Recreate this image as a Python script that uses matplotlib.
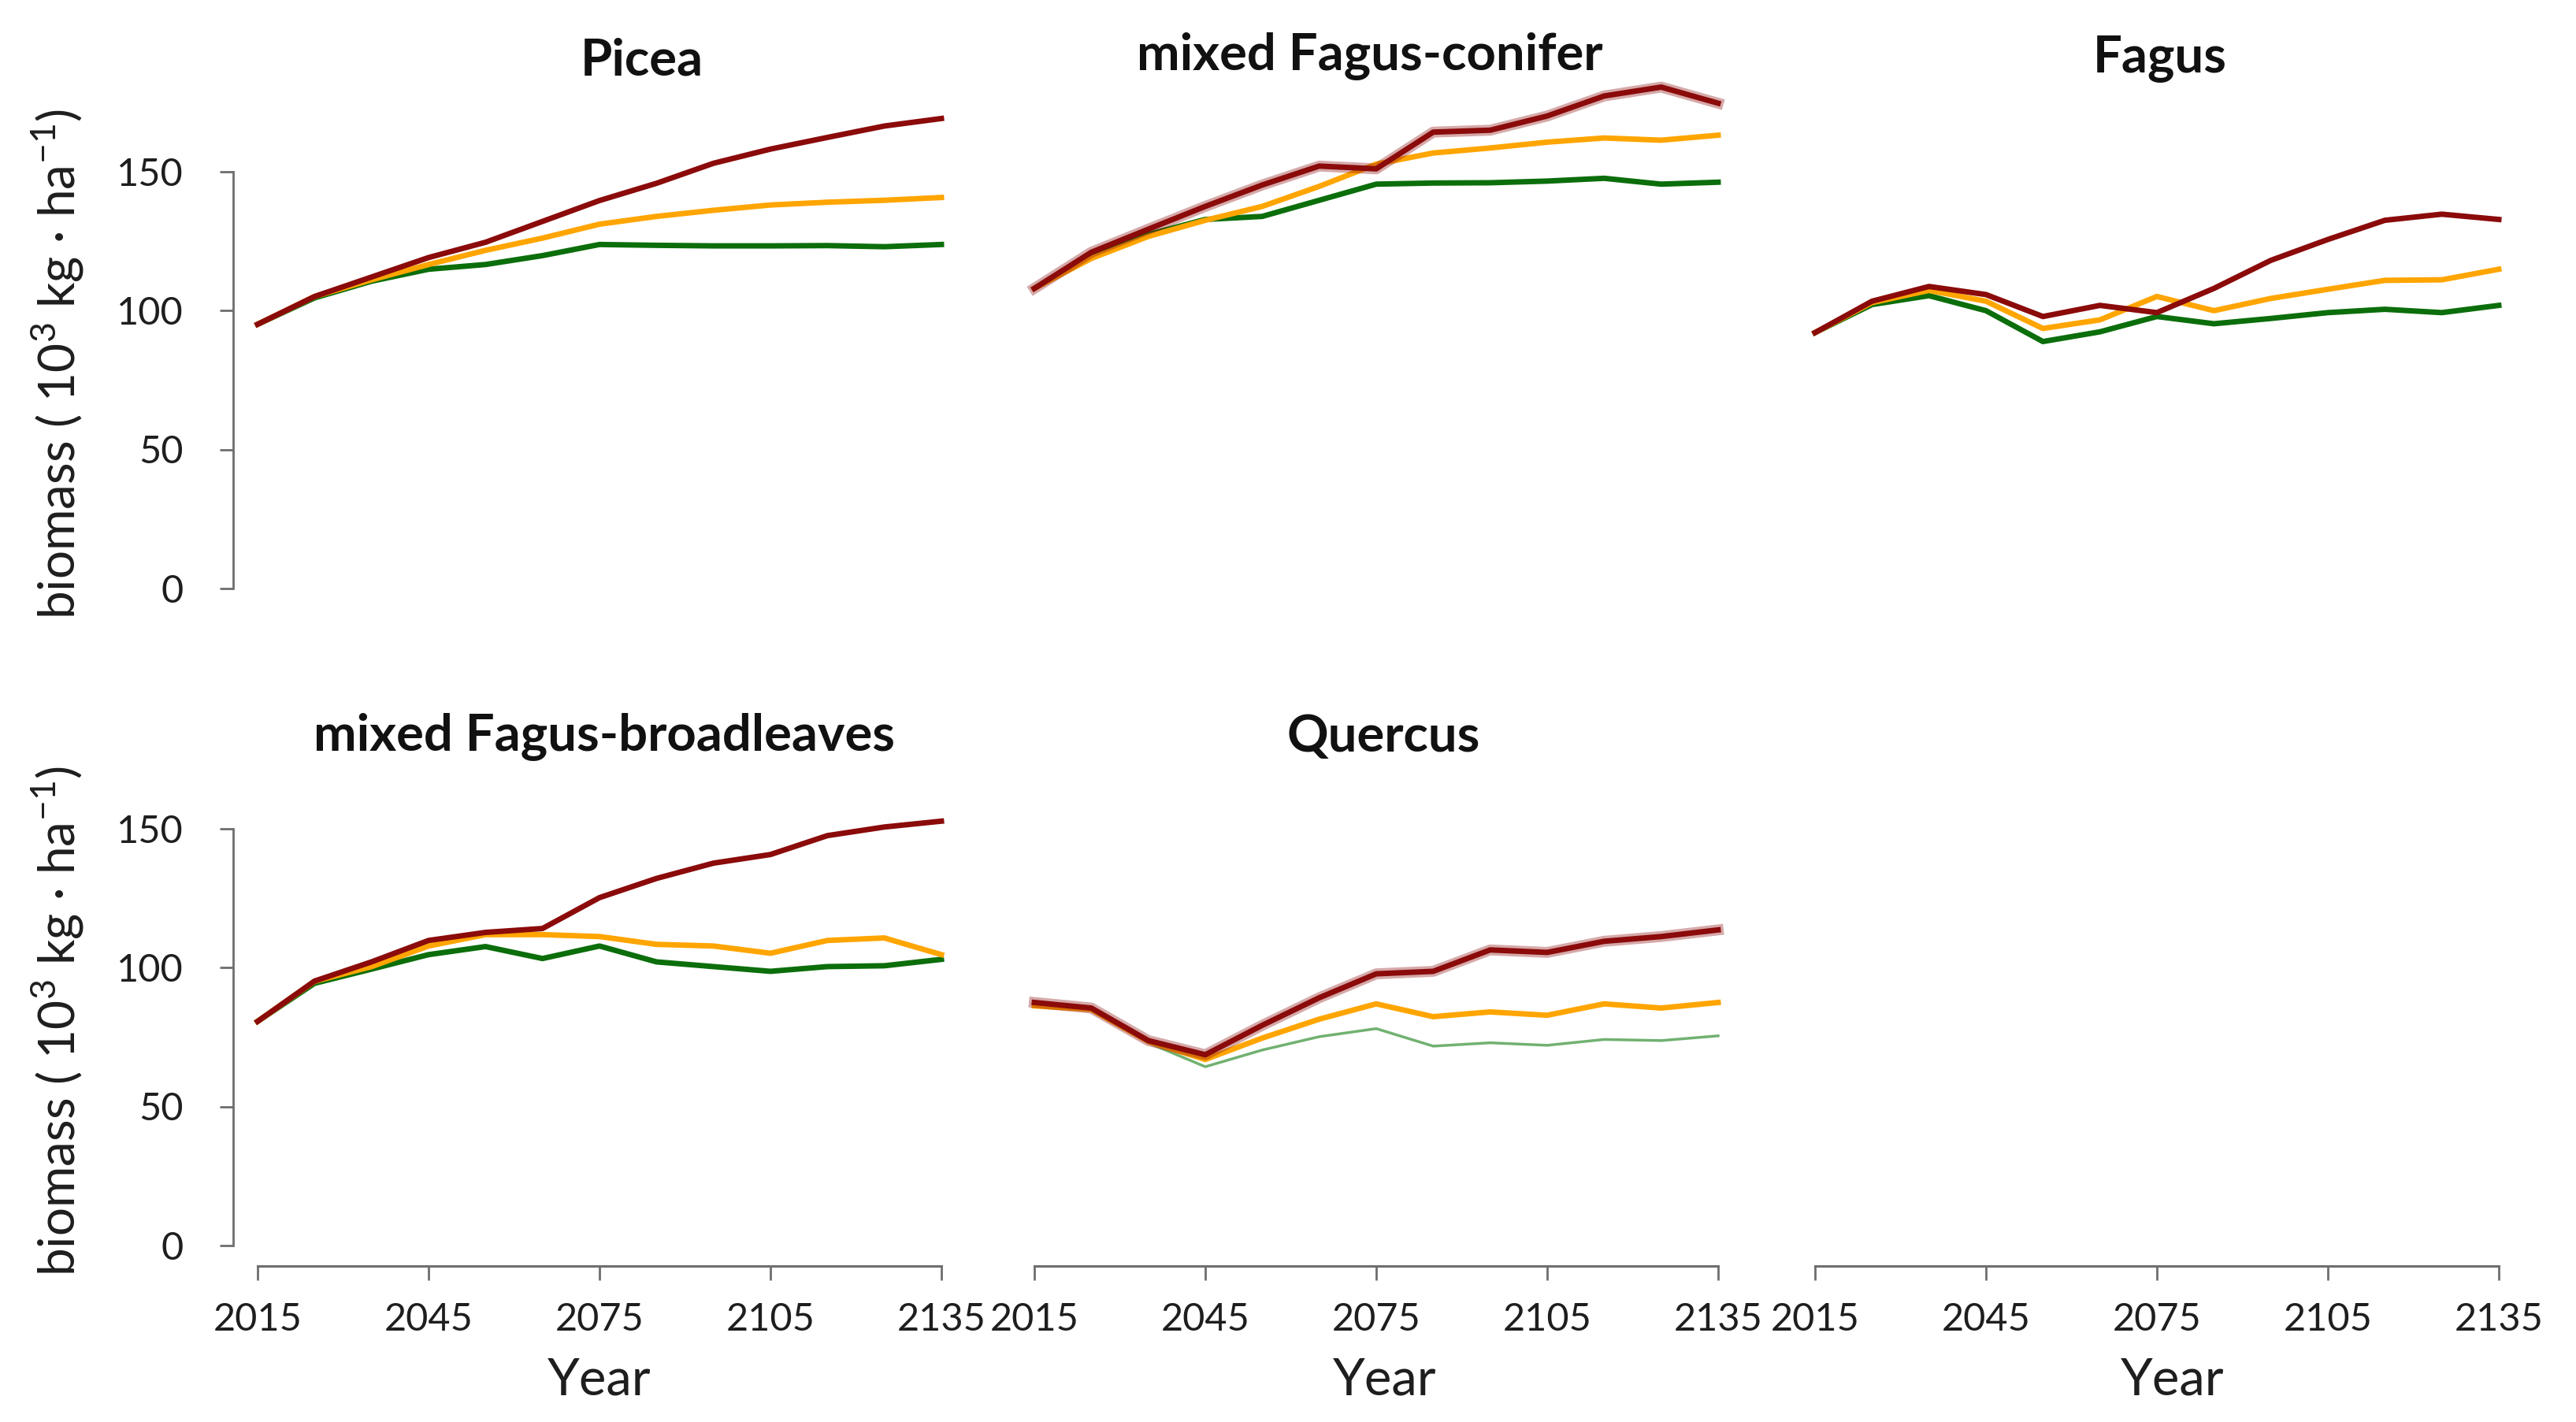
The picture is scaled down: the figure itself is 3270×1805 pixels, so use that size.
import matplotlib.pyplot as plt

plt.rcParams['font.family'] = ['Lato', 'DejaVu Sans']
plt.rcParams['mathtext.fontset'] = 'custom'
plt.rcParams['mathtext.rm'] = 'Lato'
plt.rcParams['mathtext.it'] = 'Lato:italic'
plt.rcParams['mathtext.bf'] = 'Lato:bold'

years = [2015, 2025, 2035, 2045, 2055, 2065, 2075, 2085, 2095, 2105, 2115, 2125, 2135]
year_ticks = [2015, 2045, 2075, 2105, 2135]
biomass_ticks = [0, 50, 100, 150]

# Picea
picea_red = [95, 105, 112, 119, 124.5, 132, 139.5, 145.7, 152.9, 158, 162.2, 166.3, 169]
picea_orange = [95, 105, 111, 116.5, 121.6, 126, 131, 133.8, 136, 137.9, 138.9, 139.6, 140.6]
picea_green = [95, 104.5, 110.5, 114.8, 116.5, 119.7, 123.7, 123.4, 123.2, 123.2, 123.3, 122.9, 123.7]

# mixed Fagus-conifer
fc_red = [107.9, 120.9, 129.2, 137.4, 145.1, 151.9, 150.9, 164.1, 164.8, 169.9, 177.1, 180.3, 174.5]
fc_orange = [107.9, 118.7, 126.6, 132.4, 137.4, 144.6, 152.6, 156.6, 158.4, 160.5, 162, 161.2, 163]
fc_green = [107.9, 120.1, 127.3, 132.7, 133.8, 139.6, 145.4, 145.8, 145.9, 146.5, 147.5, 145.4, 146.1]

# Fagus
fagus_red = [92, 103.3, 108.6, 105.7, 97.8, 101.8, 99.2, 107.9, 118, 125.5, 132.4, 134.6, 132.7]
fagus_orange = [92, 102.8, 107.2, 103.3, 93.5, 96.6, 105, 99.9, 104.3, 107.6, 110.8, 111, 114.8]
fagus_green = [92, 102.1, 105.3, 99.9, 88.8, 92.3, 97.8, 95.2, 97.1, 99.2, 100.4, 99.2, 101.8]

# mixed Fagus-broadleaves
fb_red = [80.6, 95.1, 102, 109.7, 112.6, 114, 125.1, 132, 137.5, 140.6, 147.4, 150.5, 152.6]
fb_orange = [80.6, 95, 100.3, 107.7, 111.8, 111.8, 111.1, 108.3, 107.7, 105.1, 109.7, 110.6, 104.6]
fb_green = [80.6, 94.3, 99.4, 104.6, 107.5, 103.2, 107.7, 102, 100.3, 98.6, 100.3, 100.6, 102.9]

# Quercus
quercus_red = [87.4, 85.4, 73.7, 68.6, 79.2, 89.1, 97.7, 98.6, 106.3, 105.4, 109.4, 111.1, 113.5]
quercus_orange = [86.2, 84.9, 73.4, 66.9, 74.6, 81.4, 86.9, 82.3, 84, 82.8, 86.9, 85.4, 87.4]
quercus_green = [86.6, 84.9, 72.9, 64.3, 70.3, 75.1, 78, 71.7, 72.9, 72, 74.1, 73.7, 75.4]

RED = '#8b0a0a'
ORANGE = '#ffa500'
GREEN = '#0b6e0b'
GREY = '#6e6e6e'

W, H = 3270, 1805
fig = plt.figure(figsize=(W / 100, H / 100), dpi=100)

col_x = [327, 1313, 2304]
row_y0 = [747, 1581]
px_per_unit = 3.53
ax_w = 868
ymax = 185


def make_axes(col, row):
    x0 = col_x[col]
    y0 = row_y0[row]
    ax = fig.add_axes([x0 / W, 1 - y0 / H, ax_w / W, ymax * px_per_unit / H])
    ax.set_xlim(2015, 2135)
    ax.set_ylim(0, ymax)
    ax.patch.set_alpha(0)
    for s in ['top', 'right']:
        ax.spines[s].set_visible(False)
    if col == 0:
        ax.spines['left'].set_position(('outward', 22))
        ax.spines['left'].set_bounds(0, 150)
        ax.spines['left'].set_color(GREY)
        ax.spines['left'].set_linewidth(2)
        ax.set_yticks(biomass_ticks)
        ax.tick_params(axis='y', length=12, width=2, color=GREY,
                       labelsize=35, pad=34, labelcolor='#1e1e1e')
    else:
        ax.spines['left'].set_visible(False)
        ax.set_yticks([])
    if row == 1:
        ax.spines['bottom'].set_position(('outward', 19))
        ax.spines['bottom'].set_bounds(2015, 2135)
        ax.spines['bottom'].set_color(GREY)
        ax.spines['bottom'].set_linewidth(2.2)
        ax.set_xticks(year_ticks)
        ax.tick_params(axis='x', length=13, width=2, color=GREY,
                       labelsize=35, pad=20, labelcolor='#1e1e1e')
    else:
        ax.spines['bottom'].set_visible(False)
        ax.set_xticks([])
    return ax


def draw(ax, red, orange, green, red_band=False, thin_green=False):
    if thin_green:
        ax.plot(years, green, color='#4e9e4e', lw=2.5, alpha=0.8, clip_on=False)
    else:
        ax.plot(years, green, color=GREEN, lw=5, clip_on=False)
    ax.plot(years, orange, color=ORANGE, lw=5, clip_on=False)
    if red_band:
        ax.plot(years, red, color=RED, lw=10, alpha=0.35, clip_on=False)
    ax.plot(years, red, color=RED, lw=5, clip_on=False)


ax = make_axes(0, 0)
draw(ax, picea_red, picea_orange, picea_green)
ax = make_axes(1, 0)
draw(ax, fc_red, fc_orange, fc_green, red_band=True)
ax = make_axes(2, 0)
draw(ax, fagus_red, fagus_orange, fagus_green)
ax = make_axes(0, 1)
draw(ax, fb_red, fb_orange, fb_green)
ax = make_axes(1, 1)
draw(ax, quercus_red, quercus_orange, quercus_green, red_band=True, thin_green=True)
ax = make_axes(2, 1)

titles = [('Picea', 815, 77), ('mixed Fagus-conifer', 1739, 71), ('Fagus', 2742, 75),
          ('mixed Fagus-broadleaves', 767, 935), ('Quercus', 1756, 935)]
for name, tx, ty in titles:
    fig.text(tx / W, 1 - ty / H, name, ha='center', va='center',
             fontsize=47, fontweight='bold', color='#111111')

ylabel = 'biomass ( 10$^{3}$ kg · ha$^{-1}$)'
for cy in [462, 1296]:
    fig.text(73 / W, 1 - cy / H, ylabel, rotation=90, ha='center', va='center',
             fontsize=46, color='#1e1e1e')

for cx in [761, 1758, 2758]:
    fig.text(cx / W, 1 - 1752 / H, 'Year', ha='center', va='center',
             fontsize=47, color='#1e1e1e')

plt.savefig('out.png', dpi=100)
